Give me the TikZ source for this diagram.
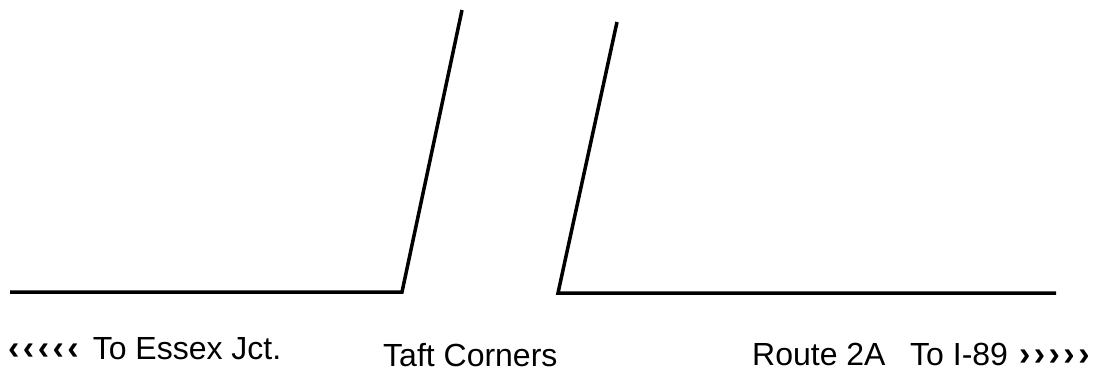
\documentclass[tikz,border=0pt]{standalone}
\usepackage{fontspec}
\setmainfont{Liberation Sans}
\usepackage{tikz}
\usetikzlibrary{positioning}
\newcommand{\chevs}[1]{{\bfseries\fontsize{34}{36}\selectfont
	#1\kern3.5pt#1\kern3.5pt#1\kern3.5pt#1\kern3.5pt#1}}
\tikzset{
	road/.style={line width=3.5pt, draw=black, line join=miter},
	lbl/.style={font=\fontsize{32}{36}\selectfont, anchor=base west,
		inner sep=0pt, text=black},
}
\begin{document}
\begin{tikzpicture}[x=1pt, y=-1pt]
			\useasboundingbox (0,0) rectangle (1110,381);
			\draw[road] (10,292) -- (402,292) -- (462,10);
			\draw[road] (617,22) -- (558,293) -- (1056,293);
			\node[lbl] (essex) at (8,359) {\chevs{‹}\hspace{14pt}To Essex Jct.};
			\node[lbl] (taft) at (383,366) {Taft Corners};
			\node[lbl] (route) at (752,365) {Route 2A};
			\node[lbl] (ieightynine) at (910,365) {To I-89\hspace{11pt}\chevs{›}};
		\end{tikzpicture}
\end{document}
